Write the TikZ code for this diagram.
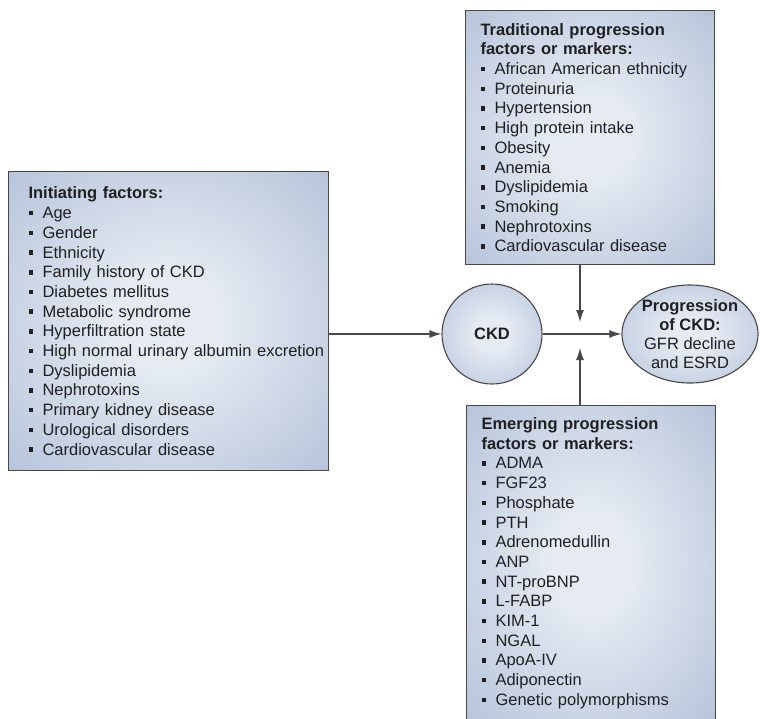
\documentclass[tikz,border=0pt]{standalone}
\usepackage{fontspec}
\setmainfont{Liberation Sans}
\usetikzlibrary{arrows.meta,shapes.geometric}
\definecolor{boxin}{RGB}{230,235,243}
\definecolor{boxout}{RGB}{164,181,209}
\definecolor{boxline}{RGB}{72,72,76}
\definecolor{ink}{RGB}{32,32,34}
\pgfdeclareradialshading{glow}{\pgfpoint{0bp}{0bp}}{color(0bp)=(boxin); color(8bp)=(boxin); color(46bp)=(boxout); color(72bp)=(boxout)}
\newcommand{\bul}{\makebox[14pt][l]{\rule[3.2pt]{4.5pt}{4.5pt}}}

\begin{document}
\begin{tikzpicture}[x=1pt,y=-1pt,
  box/.style={draw=boxline,line width=1.1pt,shade,shading=glow,anchor=north west,align=left,
    text=ink,font=\fontsize{16.5}{19.7}\selectfont,inner ysep=0pt},
  bub/.style={draw=boxline,line width=1.1pt,shade,shading=glow,align=center,text=ink,
    inner sep=0pt,font=\fontsize{16.5}{19}\selectfont},
  arr/.style={draw=boxline,line width=1.1pt,-{Latex[length=12pt,width=8pt]}}]
\useasboundingbox (0,0) rectangle (760,718);

\node[box,text width=280pt,inner xsep=20pt,minimum height=299pt] (IF) at (8,171)
  {\textbf{Initiating factors:}\\
   \bul Age\\
   \bul Gender\\
   \bul Ethnicity\\
   \bul Family history of CKD\\
   \bul Diabetes mellitus\\
   \bul Metabolic syndrome\\
   \bul Hyperfiltration state\\
   \mbox{\bul High normal urinary albumin excretion}\\
   \bul Dyslipidemia\\
   \bul Nephrotoxins\\
   \bul Primary kidney disease\\
   \bul Urological disorders\\
   \bul Cardiovascular disease};

\node[box,text width=219pt,inner xsep=15pt,minimum height=254pt] (TP) at (465,10)
  {\textbf{Traditional progression}\\
   \textbf{factors or markers:}\\
   \bul African American ethnicity\\
   \bul Proteinuria\\
   \bul Hypertension\\
   \bul High protein intake\\
   \bul Obesity\\
   \bul Anemia\\
   \bul Dyslipidemia\\
   \bul Smoking\\
   \bul Nephrotoxins\\
   \bul Cardiovascular disease};

\node[box,text width=219pt,inner xsep=15pt,inner ysep=12pt] (EP) at (466,405)
  {\textbf{Emerging progression}\\
   \textbf{factors or markers:}\\
   \bul ADMA\\
   \bul FGF23\\
   \bul Phosphate\\
   \bul PTH\\
   \bul Adrenomedullin\\
   \bul ANP\\
   \bul NT-proBNP\\
   \bul L-FABP\\
   \bul KIM-1\\
   \bul NGAL\\
   \bul ApoA-IV\\
   \bul Adiponectin\\
   \bul Genetic polymorphisms};

\node[bub,circle,minimum size=100pt,font=\fontsize{16.5}{19}\selectfont\bfseries] (CKD) at (492,334) {CKD};
\node[bub,ellipse,minimum width=136pt,minimum height=98pt] (PR) at (690,334)
  {\textbf{Progression}\\\textbf{of CKD:}\\GFR decline\\and ESRD};

\coordinate (TT) at (580,322);
\coordinate (BT) at (580,348);
\draw[arr] (IF.east |- CKD.west) -- (CKD.west);
\draw[arr] (CKD) -- (PR);
\draw[arr] (TP.south -| TT) -- (TT);
\draw[arr] (EP.north -| BT) -- (BT);
\end{tikzpicture}
\end{document}
